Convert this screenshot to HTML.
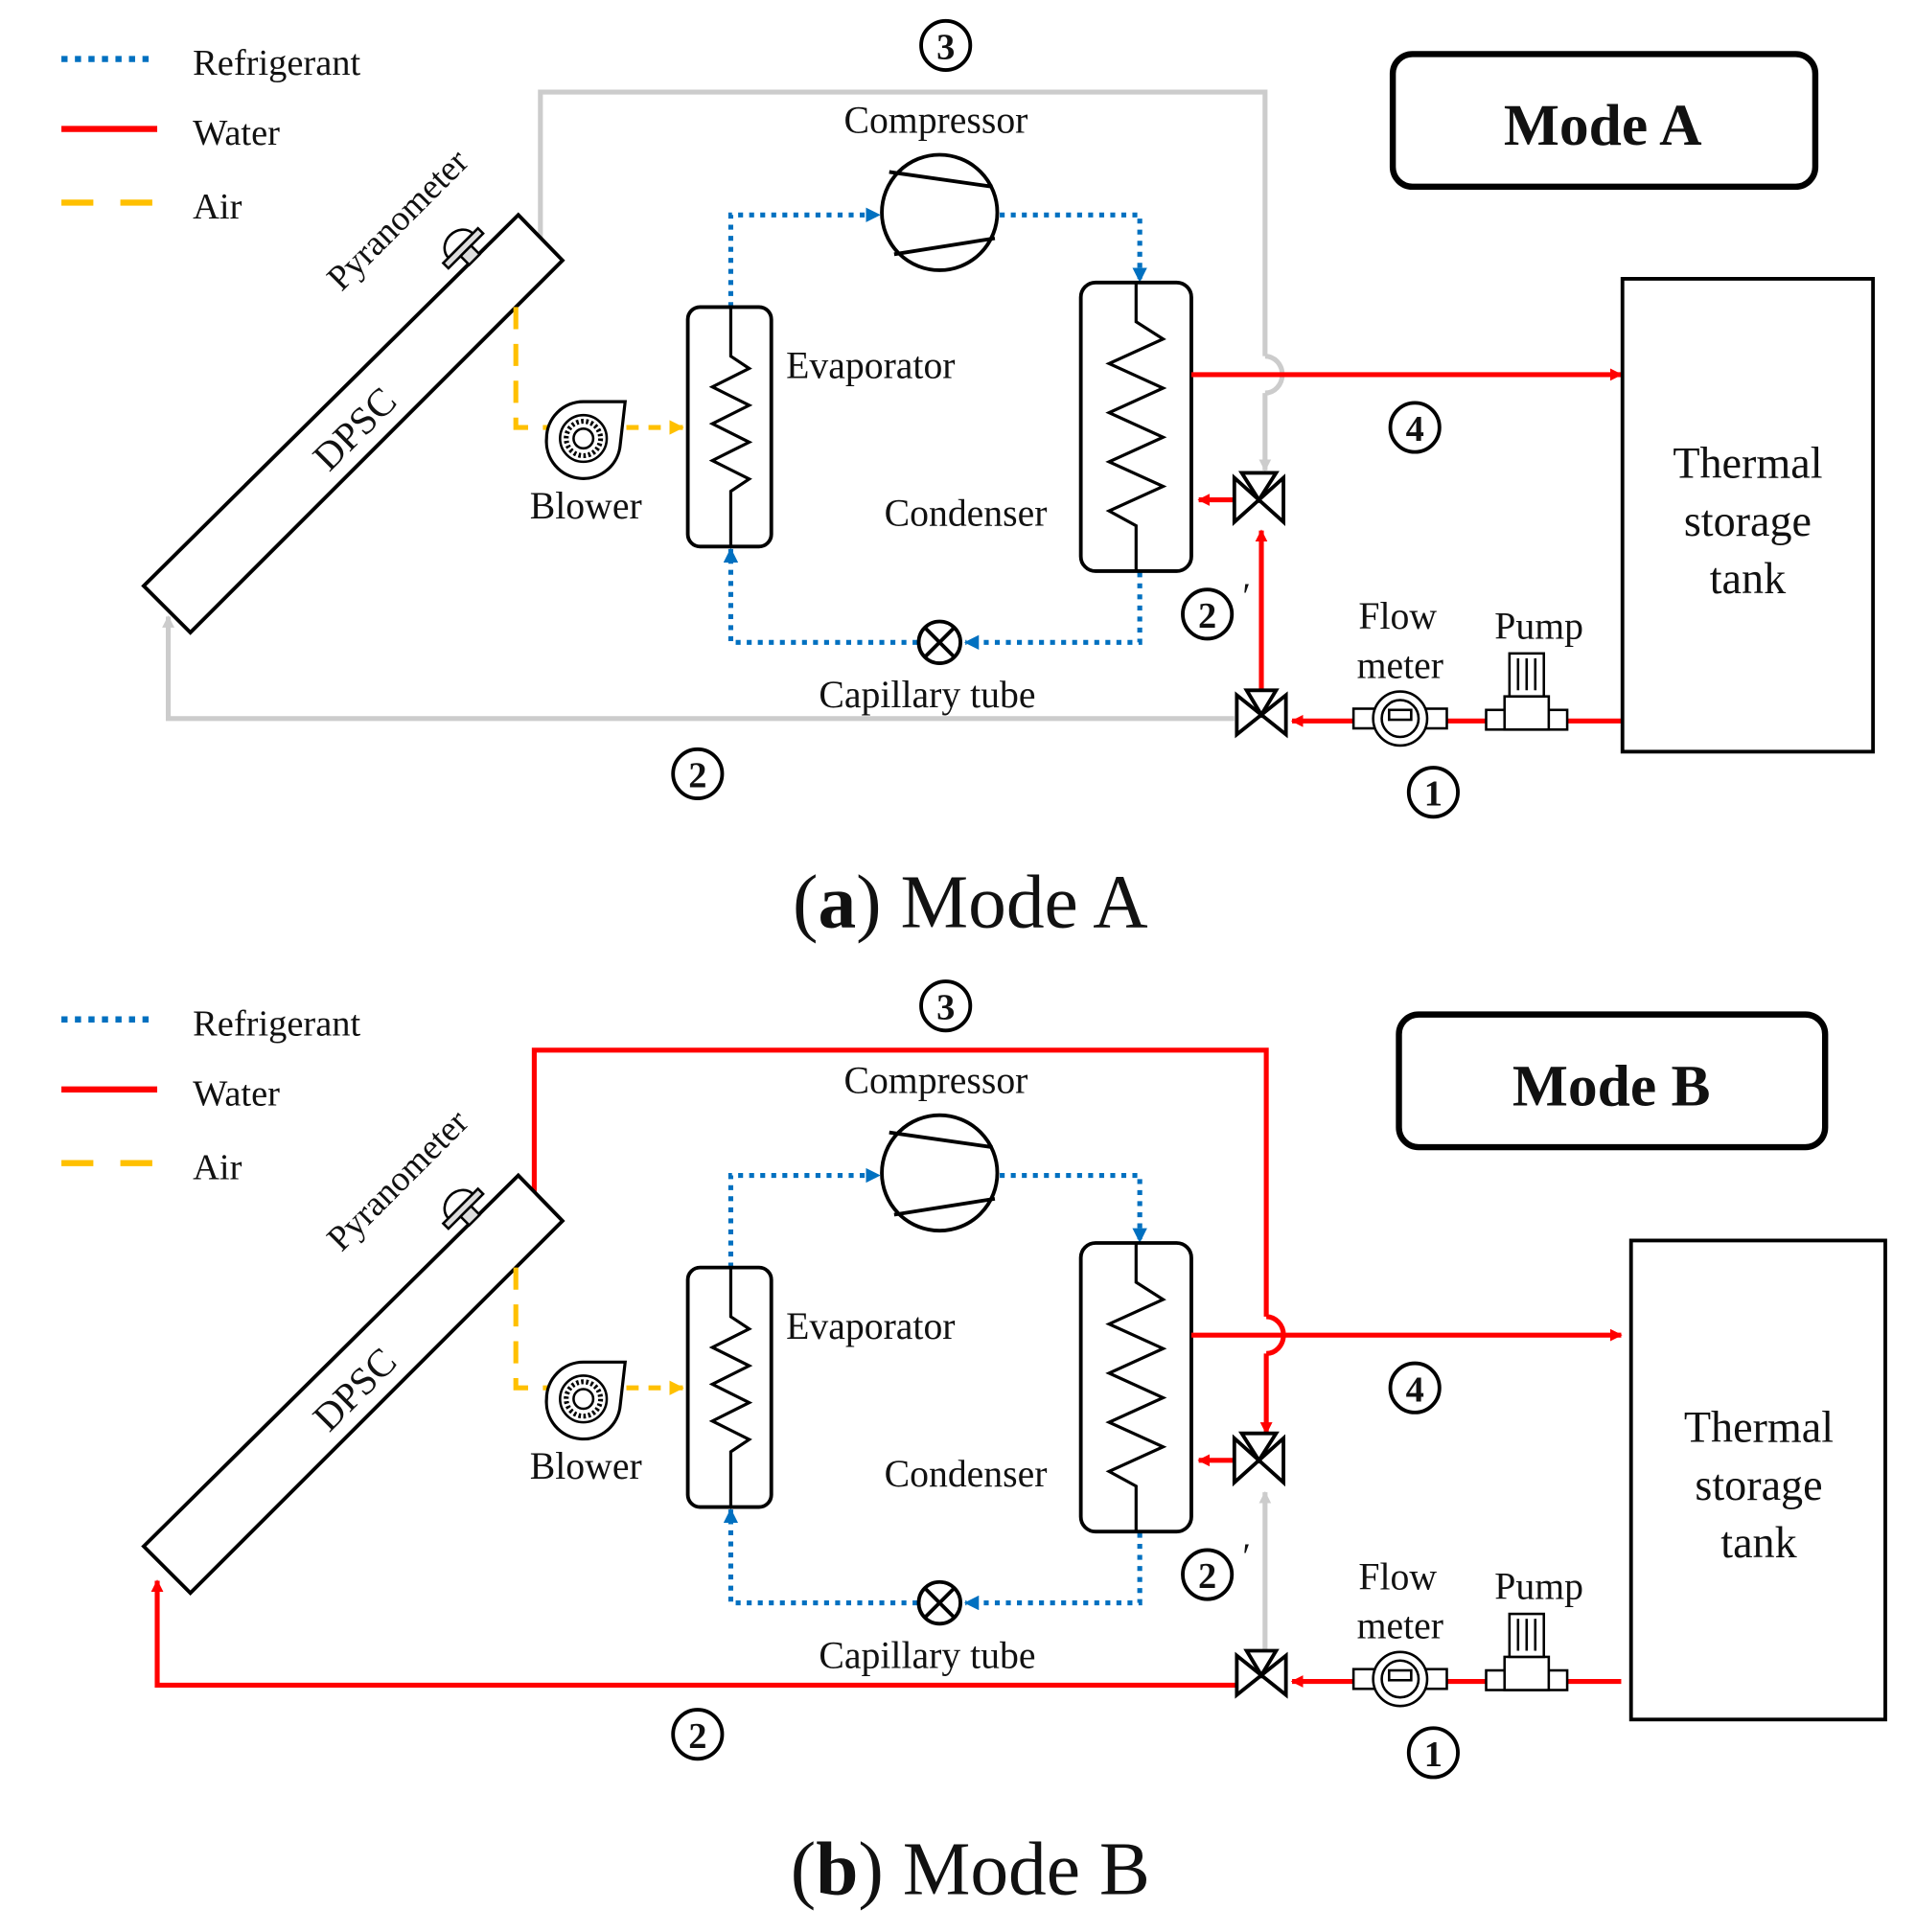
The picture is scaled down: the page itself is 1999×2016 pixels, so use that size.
<!DOCTYPE html>
<html><head><meta charset="utf-8"><style>
html,body{margin:0;padding:0;background:#fff;}
svg{display:block;}
text{font-family:"Liberation Serif","DejaVu Serif",serif;fill:#111;}
</style></head><body>
<svg width="1999" height="2016" viewBox="0 0 1560 1573" preserveAspectRatio="none" xmlns="http://www.w3.org/2000/svg">
<defs>
<marker id="aR" markerWidth="10" markerHeight="10" refX="9" refY="5" orient="auto" markerUnits="userSpaceOnUse"><path d="M0,0 L10,5 L0,10 Z" fill="#f00"/></marker>
<marker id="aB" markerWidth="12" markerHeight="12" refX="11" refY="6" orient="auto" markerUnits="userSpaceOnUse"><path d="M0,0 L12,6 L0,12 Z" fill="#0070c0"/></marker>
<marker id="aY" markerWidth="12" markerHeight="12" refX="11" refY="6" orient="auto" markerUnits="userSpaceOnUse"><path d="M0,0 L12,6 L0,12 Z" fill="#ffc000"/></marker>
<marker id="aG" markerWidth="10" markerHeight="10" refX="9" refY="5" orient="auto" markerUnits="userSpaceOnUse"><path d="M0,0 L10,5 L0,10 Z" fill="#ccc"/></marker>
<g id="common">
  <line x1="50" y1="48" x2="125" y2="48" stroke="#0070c0" stroke-width="5" stroke-dasharray="5,6"/>
  <text x="157" y="61" font-size="30">Refrigerant</text>
  <line x1="50" y1="105" x2="128" y2="105" stroke="#f00" stroke-width="5"/>
  <text x="157" y="118" font-size="30">Water</text>
  <line x1="50" y1="165" x2="128" y2="165" stroke="#ffc000" stroke-width="5" stroke-dasharray="26,22"/>
  <text x="157" y="178" font-size="30">Air</text>
  <circle cx="770" cy="37" r="20" fill="none" stroke="#000" stroke-width="3"/>
  <text x="770" y="48" font-size="30" font-weight="bold" text-anchor="middle" font-family="Liberation Sans">3</text>
  <text x="762" y="108" font-size="31" text-anchor="middle">Compressor</text>
  <circle cx="765" cy="173" r="47" fill="none" stroke="#000" stroke-width="3"/>
  <line x1="724" y1="140" x2="808" y2="152" stroke="#000" stroke-width="3"/>
  <line x1="728" y1="207" x2="810" y2="194" stroke="#000" stroke-width="3"/>
  <g fill="none" stroke="#0070c0" stroke-width="4" stroke-dasharray="4,5">
    <polyline points="595,250 595,175 716,175" marker-end="url(#aB)"/>
    <polyline points="814,175 928,175 928,229" marker-end="url(#aB)"/>
    <polyline points="928,466 928,523 786,523" marker-end="url(#aB)"/>
    <polyline points="747,523 595,523 595,447" marker-end="url(#aB)"/>
  </g>
  <circle cx="765" cy="523" r="17" fill="#fff" stroke="#000" stroke-width="3"/>
  <line x1="753" y1="511" x2="777" y2="535" stroke="#000" stroke-width="3"/>
  <line x1="777" y1="511" x2="753" y2="535" stroke="#000" stroke-width="3"/>
  <text x="755" y="576" font-size="31" text-anchor="middle">Capillary tube</text>
  <rect x="560" y="250" width="68" height="195" rx="10" fill="#fff" stroke="#000" stroke-width="3"/>
  <polyline points="595,250 595,290 610,300 580,315 610,330 580,345 610,360 580,375 610,390 595,400 595,445" fill="none" stroke="#000" stroke-width="2.5"/>
  <text x="640" y="308" font-size="31">Evaporator</text>
  <rect x="880" y="230" width="90" height="235" rx="12" fill="#fff" stroke="#000" stroke-width="3"/>
  <polyline points="925,230 925,262 947,276 903,296 947,316 903,336 947,356 903,376 947,396 903,416 925,428 925,465" fill="none" stroke="#000" stroke-width="2.5"/>
  <text x="720" y="428" font-size="31">Condenser</text>
  <polygon points="117,477 422,175 458,212 155,515" fill="#fff" stroke="#000" stroke-width="3"/>
  <text x="0" y="0" font-size="32" transform="translate(268,385) rotate(-45)">DPSC</text>
  <text x="0" y="0" font-size="29" transform="translate(278,238) rotate(-45)">Pyranometer</text>
  <g transform="translate(375,200) rotate(-45)">
    <path d="M-14,0 A14,12 0 0 1 14,0 Z" fill="#fff" stroke="#000" stroke-width="2"/>
    <rect x="-20" y="0" width="40" height="6" fill="#ddd" stroke="#000" stroke-width="2"/>
    <rect x="-6" y="6" width="12" height="10" fill="#ddd" stroke="#000" stroke-width="2"/>
  </g>
  <polyline points="420,250 420,348 446,348" fill="none" stroke="#ffc000" stroke-width="4" stroke-dasharray="18,12"/>
  <line x1="510" y1="348" x2="556" y2="348" stroke="#ffc000" stroke-width="4" stroke-dasharray="10,8" marker-end="url(#aY)"/>
  <g transform="translate(475,357)">
    <path d="M-30,0 A30,30 0 1 0 30,5 L34,-30 L0,-30 A30,30 0 0 0 -30,0 Z" fill="#fff" stroke="#000" stroke-width="2.5"/>
    <circle r="19" fill="none" stroke="#000" stroke-width="2"/>
    <circle r="14" fill="none" stroke="#000" stroke-width="4" stroke-dasharray="2,2"/>
    <circle r="8" fill="#fff" stroke="#000" stroke-width="2"/>
  </g>
  <text x="477" y="422" font-size="31" text-anchor="middle">Blower</text>
  <line x1="970" y1="305" x2="1320" y2="305" stroke="#f00" stroke-width="4" marker-end="url(#aR)"/>
  <line x1="1320" y1="587" x2="1052" y2="587" stroke="#f00" stroke-width="4" marker-end="url(#aR)"/>
  <line x1="1005" y1="407" x2="976" y2="407" stroke="#f00" stroke-width="4" marker-end="url(#aR)"/>
  <g transform="translate(1025,407)" fill="#fff" stroke="#000" stroke-width="3">
    <polygon points="-20,-18 0,0 -20,18"/><polygon points="20,-18 0,0 20,18"/>
    <polygon points="-14,-22 14,-22 0,0"/>
  </g>
  <g transform="translate(1027,582)" fill="#fff" stroke="#000" stroke-width="3">
    <polygon points="-20,-16 0,0 -20,16"/><polygon points="20,-16 0,0 20,16"/>
    <polygon points="-12,-20 12,-20 0,0"/>
  </g>
  <g transform="translate(1140,585)" fill="#fff" stroke="#000" stroke-width="2">
    <rect x="-38" y="-8" width="76" height="16"/>
    <circle r="22"/><circle r="15"/>
    <rect x="-9" y="-7" width="18" height="8"/>
  </g>
  <text x="1138" y="512" font-size="31" text-anchor="middle">Flow</text>
  <text x="1140" y="552" font-size="31" text-anchor="middle">meter</text>
  <g transform="translate(1243,570)" fill="#fff" stroke="#000" stroke-width="2">
    <rect x="-33" y="8" width="66" height="16"/>
    <rect x="-18" y="-3" width="36" height="27"/>
    <rect x="-14" y="-38" width="28" height="35"/>
    <line x1="-7" y1="-34" x2="-7" y2="-8"/><line x1="0" y1="-34" x2="0" y2="-8"/><line x1="7" y1="-34" x2="7" y2="-8"/>
  </g>
  <text x="1253" y="520" font-size="31" text-anchor="middle">Pump</text>
  <g font-family="Liberation Sans" font-weight="bold" font-size="30" text-anchor="middle">
    <circle cx="568" cy="630" r="20" fill="none" stroke="#000" stroke-width="3"/><text x="568" y="641">2</text>
    <circle cx="1152" cy="348" r="20" fill="none" stroke="#000" stroke-width="3"/><text x="1152" y="359">4</text>
    <circle cx="983" cy="500" r="20" fill="none" stroke="#000" stroke-width="3"/><text x="983" y="511">2</text>
    <text x="1015" y="495" font-family="Liberation Serif" font-weight="normal">′</text>
    <circle cx="1167" cy="645" r="20" fill="none" stroke="#000" stroke-width="3"/><text x="1167" y="656">1</text>
  </g>
</g>
</defs>

<polyline points="440,215 440,75 1030,75 1030,290" fill="none" stroke="#ccc" stroke-width="4"/>
<path d="M1030,290 A14,15 0 0 1 1030,320" fill="none" stroke="#ccc" stroke-width="4"/>
<line x1="1030" y1="320" x2="1030" y2="383" stroke="#ccc" stroke-width="4" marker-end="url(#aG)"/>
<polyline points="1005,585 137,585 137,502" fill="none" stroke="#ccc" stroke-width="4" marker-end="url(#aG)"/>
<line x1="1027" y1="565" x2="1027" y2="432" stroke="#f00" stroke-width="4" marker-end="url(#aR)"/>
<use href="#common"/>
<rect x="1321" y="227" width="204" height="385" fill="#fff" stroke="#000" stroke-width="3"/>
<text x="1423" y="389" font-size="36" text-anchor="middle">Thermal</text>
<text x="1423" y="436" font-size="36" text-anchor="middle">storage</text>
<text x="1423" y="483" font-size="36" text-anchor="middle">tank</text>
<rect x="1134" y="44" width="344" height="108" rx="16" fill="#fff" stroke="#000" stroke-width="5"/>
<text x="1305" y="118" font-size="48" font-weight="bold" text-anchor="middle">Mode A</text>
<text x="790" y="755" font-size="62" text-anchor="middle">(<tspan font-weight="bold">a</tspan>) Mode A</text>

<g transform="translate(0,782)">
<polyline points="435,195 435,73 1031,73 1031,290" fill="none" stroke="#f00" stroke-width="4"/>
<path d="M1031,290 A14,15 0 0 1 1031,320" fill="none" stroke="#f00" stroke-width="4"/>
<line x1="1031" y1="320" x2="1031" y2="385" stroke="#f00" stroke-width="4" marker-end="url(#aR)"/>
<polyline points="1010,590 128,590 128,505" fill="none" stroke="#f00" stroke-width="4" marker-end="url(#aR)"/>
<line x1="1030" y1="570" x2="1030" y2="433" stroke="#ccc" stroke-width="4" marker-end="url(#aG)"/>
<use href="#common"/>
</g>
<rect x="1328" y="1010" width="207" height="390" fill="#fff" stroke="#000" stroke-width="3"/>
<text x="1432" y="1174" font-size="36" text-anchor="middle">Thermal</text>
<text x="1432" y="1221" font-size="36" text-anchor="middle">storage</text>
<text x="1432" y="1268" font-size="36" text-anchor="middle">tank</text>
<rect x="1139" y="826" width="347" height="108" rx="16" fill="#fff" stroke="#000" stroke-width="5"/>
<text x="1312" y="900" font-size="48" font-weight="bold" text-anchor="middle">Mode B</text>
<text x="790" y="1542" font-size="62" text-anchor="middle">(<tspan font-weight="bold">b</tspan>) Mode B</text>
</svg>
</body></html>
